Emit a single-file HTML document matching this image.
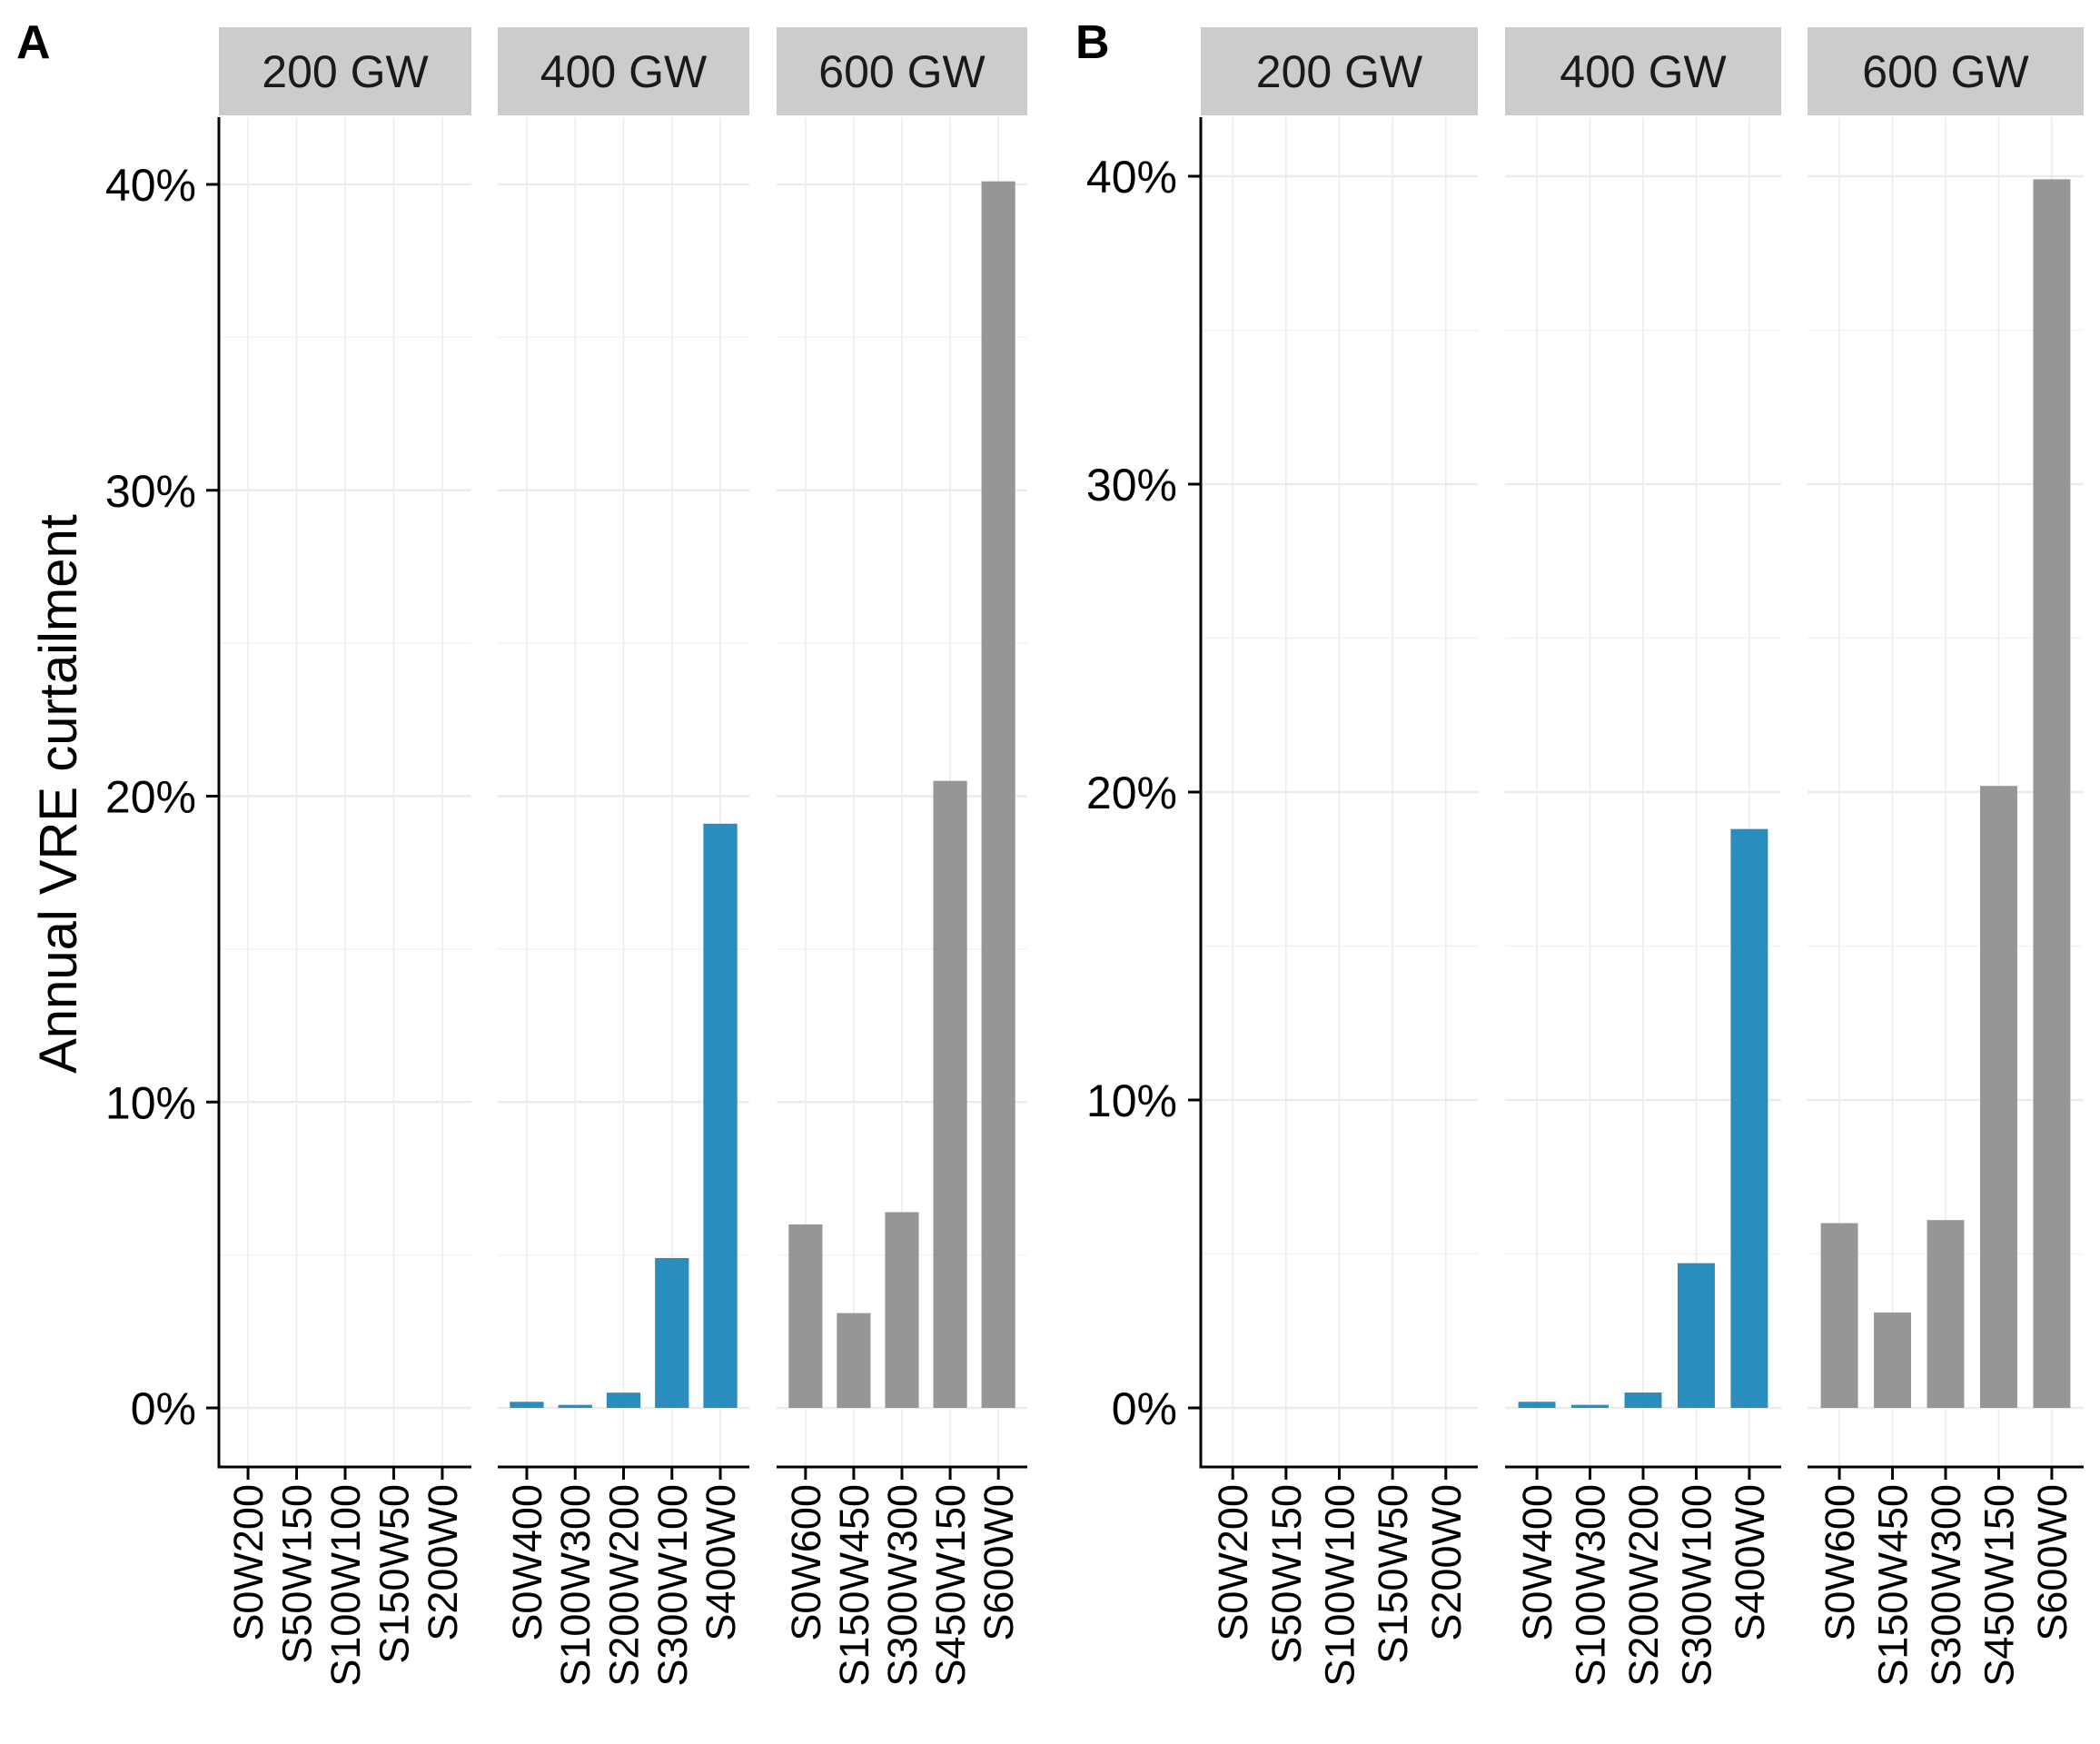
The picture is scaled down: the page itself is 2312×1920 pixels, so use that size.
<!DOCTYPE html>
<html><head><meta charset="utf-8"><style>
html,body{margin:0;padding:0;background:#fff;}
svg{display:block;font-family:"Liberation Sans",Arial,sans-serif;}
</style></head><body>
<svg id="chart" width="2312" height="1920" viewBox="0 0 2312 1920" xmlns="http://www.w3.org/2000/svg">
<text x="18" y="64" font-size="52" font-weight="bold">A</text>
<text x="1184" y="64" font-size="52" font-weight="bold">B</text>
<text transform="translate(84,874) rotate(-90)" text-anchor="middle" font-size="58">Annual VRE curtailment</text>
</svg>
<script>
const facetLabels = ["200 GW","400 GW","600 GW"];
const cats200 = ["S0W200","S50W150","S100W100","S150W50","S200W0"];
const cats400 = ["S0W400","S100W300","S200W200","S300W100","S400W0"];
const cats600 = ["S0W600","S150W450","S300W300","S450W150","S600W0"];
const valsA200 = [null,null,null,null,null];
const valsA400 = [0.2,0.1,0.5,4.9,19.1];
const valsA600 = [6.0,3.1,6.4,20.5,40.1];
const valsB200 = [null,null,null,null,null];
const valsB400 = [0.2,0.1,0.5,4.7,18.8];
const valsB600 = [6.0,3.1,6.1,20.2,39.9];
const yTicks = [0,10,20,30,40];
const yTickLabels = ["0%","10%","20%","30%","40%"];
const yMinor = [5,15,25,35];

const svg = document.getElementById('chart');
const NS = "http://www.w3.org/2000/svg";
function mk(tag, attrs, parent){
  const e = document.createElementNS(NS, tag);
  for (const k in attrs) e.setAttribute(k, attrs[k]);
  (parent||svg).appendChild(e); return e;
}
const cats = [cats200, cats400, cats600];
const colors = ["#969696","#2b8cbe","#969696"];

function drawPlot(name, panels, vals, y0, y40, tickRight){
  const top = 129, bottom = 1615;
  const yScale = v => y0 - (y0 - y40) * v / 40;
  panels.forEach((p, i) => {
    const g = mk('g', {});
    
    
    const s = mk('rect', {x:p[0], y:30, width:p[1]-p[0], height:97, fill:'#cccccc'}, g);
    
    
    const st = mk('text', {x:(p[0]+p[1])/2, y:96, 'text-anchor':'middle', 'font-size':50, fill:'#1a1a1a'}, g);
    st.textContent = facetLabels[i];
    
    
    const unit = (p[1]-p[0]) / 5.2;
    const xPos = k => p[0] + unit * (0.6 + k);
    yMinor.forEach(t => { mk('line', {x1:p[0], x2:p[1], y1:yScale(t), y2:yScale(t), stroke:'#f3f3f3', 'stroke-width':1.5}, g); });
    yTicks.forEach(t => { mk('line', {x1:p[0], x2:p[1], y1:yScale(t), y2:yScale(t), stroke:'#ebebeb', 'stroke-width':2.5}, g); });
    cats[i].forEach((c, k) => { mk('line', {x1:xPos(k), x2:xPos(k), y1:top, y2:bottom, stroke:'#ebebeb', 'stroke-width':1.5}, g); });
    vals[i].forEach((v, k) => {
      if (v === null) return;
      const bw = unit * 0.7;
      const b = mk('rect', {x:xPos(k)-bw/2, y:yScale(v), width:bw, height:yScale(0)-yScale(v), fill:colors[i]}, g);
      
      
    });
    mk('line', {x1:p[0], x2:p[1], y1:bottom, y2:bottom, stroke:'#000', 'stroke-width':3}, g);
    cats[i].forEach((c, k) => {
      mk('line', {x1:xPos(k), x2:xPos(k), y1:bottom, y2:bottom+14, stroke:'#000', 'stroke-width':3}, g);
      const t = mk('text', {transform:'translate(' + (xPos(k)+16) + ',' + (bottom+19) + ') rotate(-90)', 'text-anchor':'end', 'font-size':45, fill:'#000'}, g);
      t.textContent = c;
      
      
    });
  });
  const ax = panels[0][0];
  mk('line', {x1:ax, x2:ax, y1:top, y2:bottom+1.5, stroke:'#000', 'stroke-width':3});
  yTicks.forEach((t, j) => {
    mk('line', {x1:ax-14, x2:ax, y1:yScale(t), y2:yScale(t), stroke:'#000', 'stroke-width':3});
    const lt = mk('text', {x:tickRight, y:yScale(t)+18, 'text-anchor':'end', 'font-size':50, fill:'#000'});
    lt.textContent = yTickLabels[j];
    
    
  });
}
drawPlot('plot-a', [[241,519],[548,825],[855,1131]], [valsA200,valsA400,valsA600], 1550, 203, 216);
drawPlot('plot-b', [[1322,1627],[1657,1961],[1990,2294]], [valsB200,valsB400,valsB600], 1550, 194, 1296);
</script>
</body></html>
